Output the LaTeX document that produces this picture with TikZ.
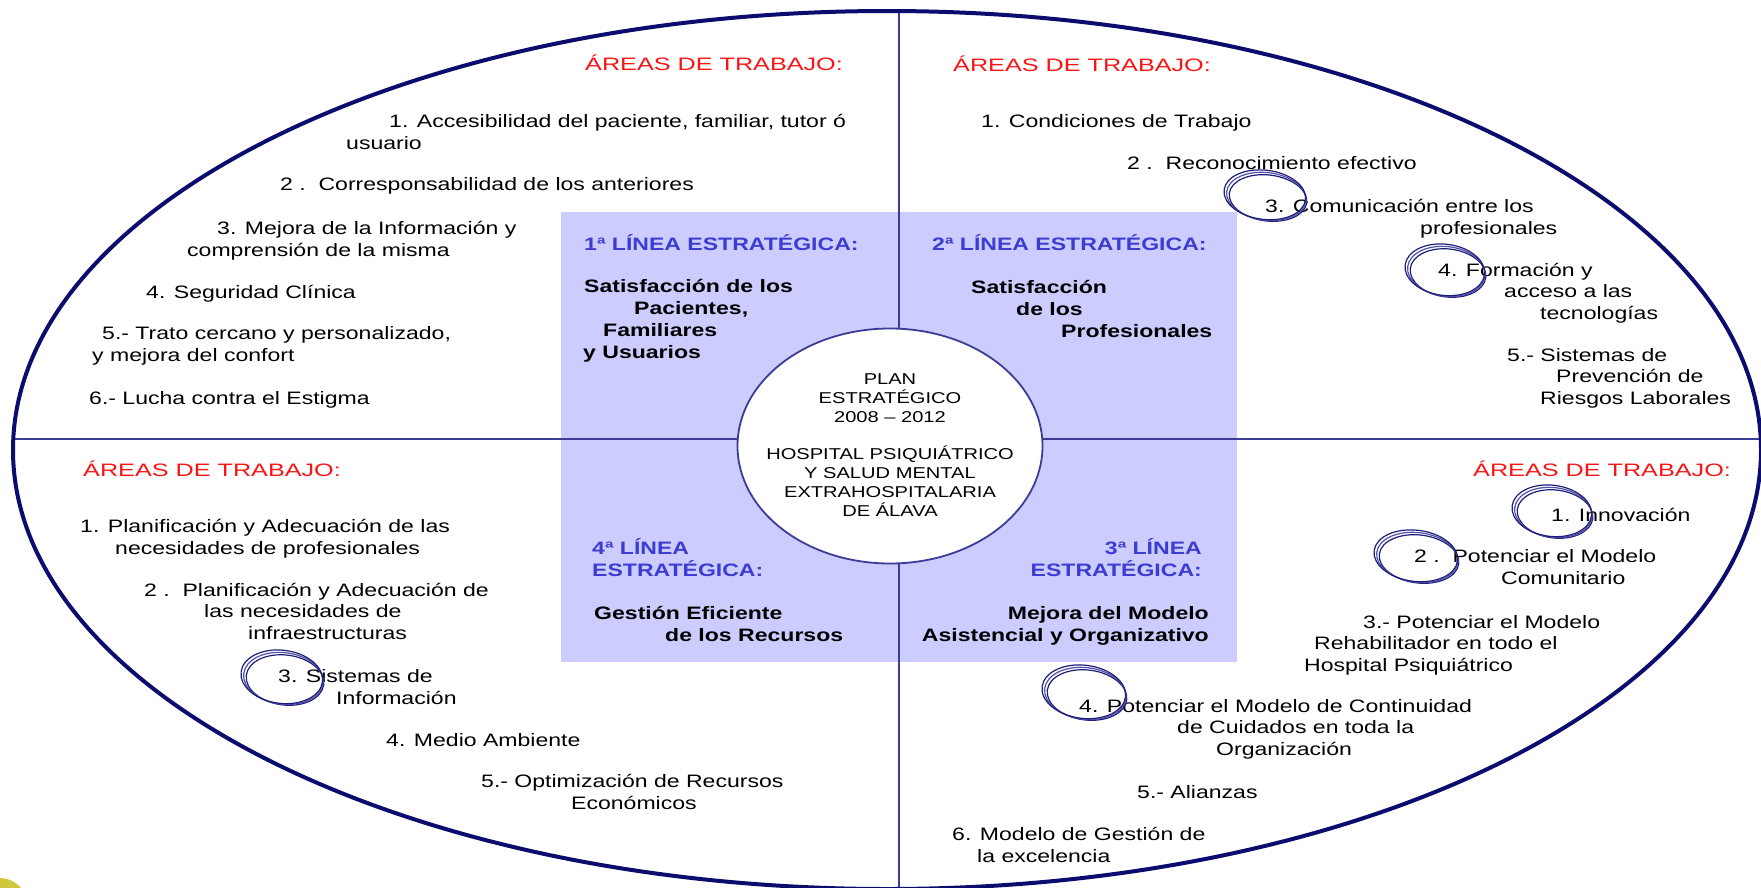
\documentclass[tikz,border=0pt]{standalone}
\usepackage{fontspec}
\setmainfont{Liberation Sans}[FakeStretch=1.28]
\newfontfamily\hdrfont{Liberation Sans}[FakeStretch=1.4]
\usetikzlibrary{shapes.geometric}
\definecolor{navy}{RGB}{12,12,110}
\definecolor{divcol}{RGB}{60,60,150}
\definecolor{blockfill}{RGB}{204,204,255}
\definecolor{lineblue}{RGB}{60,60,210}
\definecolor{areared}{RGB}{250,20,20}
\definecolor{ringA}{RGB}{30,30,120}
\definecolor{ringB}{RGB}{80,80,170}
\definecolor{yel}{RGB}{205,200,60}
\newcommand\ringmark[4]{%
  \foreach \k/\c in {0/ringA,1/ringB,2/ringA}
    \draw[\c, line width=1.2pt] ({#1-1.6*\k},{#2-1.6*\k}) ellipse [x radius={#3pt+\k pt}, y radius={#4pt+0.8*\k pt}, rotate=-7];%
}
\begin{document}
\begin{tikzpicture}[x=1pt,y=-1pt,
  txt/.style={anchor=base west, inner sep=0pt, align=left, font=\fontsize{18}{21.3}\selectfont},
  hdr/.style={anchor=base west, inner sep=0pt, text=areared, font=\hdrfont\fontsize{18}{21.3}\selectfont},
  lin/.style={anchor=base west, inner sep=0pt, align=left, text=lineblue, font=\bfseries\fontsize{18}{21.7}\selectfont},
  bld/.style={anchor=base west, inner sep=0pt, align=left, font=\bfseries\fontsize{18}{21.7}\selectfont},
  divider/.style={draw=divcol, line width=2pt},
  hub/.style={ellipse, draw=divcol, line width=1.8pt, fill=white, minimum width=305pt, minimum height=235pt, inner sep=0pt},
  hubtext/.style={inner sep=0pt, align=center, font=\fontsize{15.7}{18.9}\selectfont},
]
\useasboundingbox (0,0) rectangle (1761,887);
\clip (0,0) rectangle (1761,887);
\fill[white] (0,0) rectangle (1761,887);
% light block
\fill[blockfill] (561,212) rectangle (1237,662);
% dividers
\coordinate (vtop) at (899,11);
\coordinate (vbot) at (899,887);
\coordinate (hleft) at (13,439);
\coordinate (hright) at (1761,439);
\draw[divider] (vtop) -- (vbot);
\draw[divider] (hleft) -- (hright);
% centre
\node[hub] (hub) at (890,446) {};
\node[hubtext] (hubtxt) at (890,445) {PLAN\\ESTRATÉGICO\\2008 – 2012\\[18.9pt]HOSPITAL PSIQUIÁTRICO\\Y SALUD MENTAL\\EXTRAHOSPITALARIA\\DE ÁLAVA};
% big ellipse
\draw[navy, line width=4pt] (887,450) ellipse [x radius=874pt, y radius=439pt];
% yellow corner
\fill[yel] (0,905) circle [radius=27pt];

% ---------- top left ----------
\node[hdr] (h1) at (585,70) {ÁREAS DE TRABAJO:};
\node[txt] (a1) at (346,149) {\hspace*{43pt}1. Accesibilidad del paciente, familiar, tutor ó\\usuario};
\node[txt] (a2) at (280,190) {2 .\ \ Corresponsabilidad de los anteriores};
\node[txt] (a3) at (187,256) {\hspace*{30pt}3. Mejora de la Información y\\comprensión de la misma};
\node[txt] (a4) at (146,298) {4. Seguridad Clínica};
\node[txt] (a5) at (92,361) {\hspace*{10pt}5.- Trato cercano y personalizado,\\y mejora del confort};
\node[txt] (a6) at (89,404) {6.- Lucha contra el Estigma};
\node[lin] (l1) at (584,250) {1ª LÍNEA ESTRATÉGICA:};
\node[bld] (s1) at (583,358) {\hspace*{1pt}Satisfacción de los\\\hspace*{51pt}Pacientes,\\\hspace*{20pt}Familiares\\y Usuarios};

% ---------- top right ----------
\node[hdr] (h2) at (953,71) {ÁREAS DE TRABAJO:};
\node[txt] (b1) at (981,127) {1. Condiciones de Trabajo};
\node[txt] (b2) at (1127,169) {2 .\ \ Reconocimiento efectivo};
\node[txt] (b3) at (1265,234) {3. Comunicación entre los\\\hspace*{155pt}profesionales};
\node[txt] (b4) at (1438,319) {4. Formación y\\\hspace*{66pt}acceso a las\\\hspace*{102pt}tecnologías};
\node[txt] (b5) at (1507,404) {5.- Sistemas de\\\hspace*{49pt}Prevención de\\\hspace*{33pt}Riesgos Laborales};
\node[lin] (l2) at (932,250) {2ª LÍNEA ESTRATÉGICA:};
\node[bld] (s2) at (971,337) {Satisfacción\\\hspace*{45pt}de los\\\hspace*{90pt}Profesionales};

% ---------- bottom left ----------
\node[hdr] (h4) at (83,476) {ÁREAS DE TRABAJO:};
\node[txt] (d1) at (80,554) {1. Planificación y Adecuación de las\\\hspace*{35pt}necesidades de profesionales};
\node[txt] (d2) at (144,639) {2 .\ \ Planificación y Adecuación de\\\hspace*{60pt}las necesidades de\\\hspace*{104pt}infraestructuras};
\node[txt] (d3) at (278,704) {3. Sistemas de\\\hspace*{58pt}Información};
\node[txt] (d4) at (386,746) {4. Medio Ambiente};
\node[txt] (d5) at (481,809) {5.- Optimización de Recursos\\\hspace*{90pt}Económicos};
\node[lin] (l4) at (592,576) {4ª LÍNEA\\ESTRATÉGICA:};
\node[bld] (s4) at (594,641) {Gestión Eficiente\\\hspace*{71pt}de los Recursos};

% ---------- bottom right ----------
\node[hdr] (h3) at (1473,476) {ÁREAS DE TRABAJO:};
\node[txt] (c1) at (1551,521) {1. Innovación};
\node[txt] (c2) at (1414,584) {2 .\ \ Potenciar el Modelo\\\hspace*{87pt}Comunitario};
\node[txt] (c3) at (1304,671) {\hspace*{59pt}3.- Potenciar el Modelo\\\hspace*{10pt}Rehabilitador en todo el\\Hospital Psiquiátrico};
\node[txt] (c4) at (1079,755) {4. Potenciar el Modelo de Continuidad\\\hspace*{98pt}de Cuidados en toda la\\\hspace*{137pt}Organización};
\node[txt] (c5) at (1137,798) {5.- Alianzas};
\node[txt] (c6) at (952,862) {6. Modelo de Gestión de\\\hspace*{25pt}la excelencia};
\node[lin, anchor=base east, align=right] (l3) at (1202,576) {3ª LÍNEA\\ESTRATÉGICA:};
\node[bld, anchor=base east, align=right] (s3) at (1209,641) {Mejora del Modelo\\Asistencial y Organizativo};

% ---------- highlight rings ----------
\ringmark{1268}{198}{39}{23}
\ringmark{1448}{273}{38}{24}
\ringmark{285}{680}{39}{25}
\ringmark{1555}{514}{38}{24}
\ringmark{1419}{559}{40}{24}
\ringmark{1087}{695}{40}{25}
\end{tikzpicture}
\end{document}
